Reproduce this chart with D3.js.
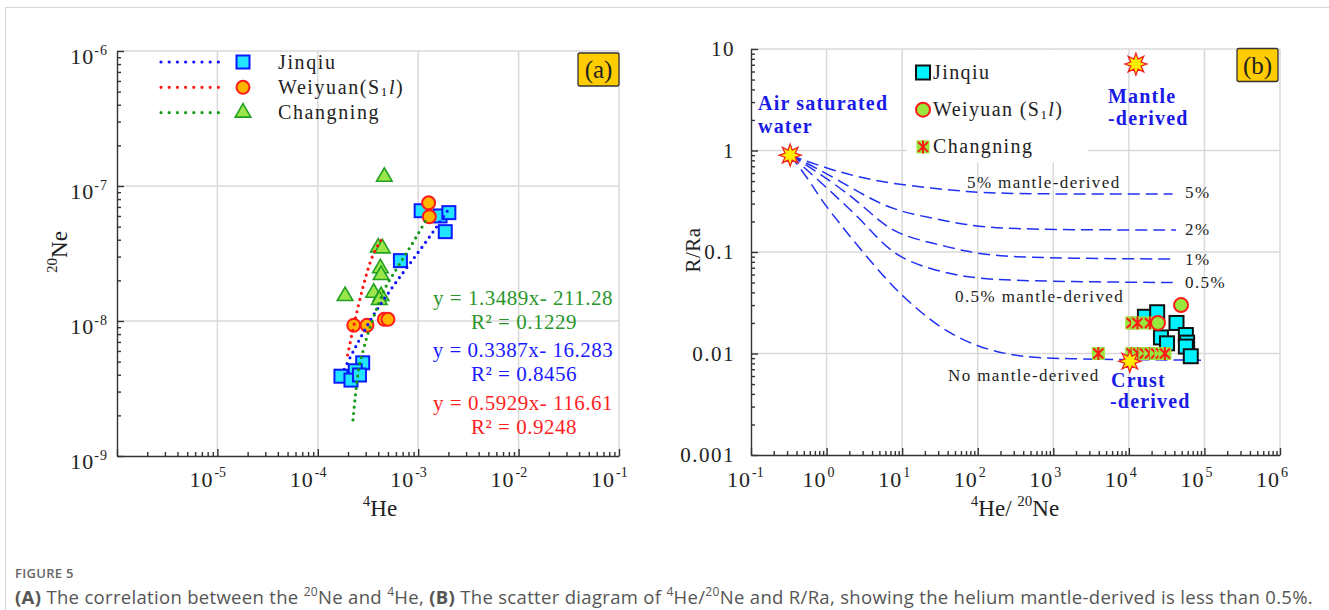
<!DOCTYPE html>
<html>
<head>
<meta charset="utf-8">
<title>Figure 5</title>
<style>
  body { margin: 0; background: #fff; }
  svg { display: block; }
  text { font-family: "Liberation Serif", "Times New Roman", serif; }
  .cap { font-family: "Open Sans", sans-serif; }
</style>
</head>
<body>
<div id="chart"></div>
<script src="https://cdn.jsdelivr.net/npm/d3@7"></script>
<script>
// ---------- panel (a): 4He vs 20Ne ----------
const jinqiuA = [[1.07e-3,6.56e-8],[1.65e-3,6.0e-8],[2.02e-3,6.35e-8],[1.86e-3,4.59e-8],[6.65e-4,2.8e-8],
                 [2.8e-4,4.9e-9],[2.36e-4,4.28e-9],[1.7e-4,3.9e-9],[2.14e-4,3.65e-9],[2.6e-4,3.98e-9]];
const weiyuanA = [[1.27e-3,7.5e-8],[1.29e-3,5.93e-8],[2.28e-4,9.3e-9],[3.09e-4,9.3e-9],[4.6e-4,1.03e-8],[5.0e-4,1.03e-8]];
const changningA = [[4.6e-4,1.17e-7],[4.0e-4,3.5e-8],[4.4e-4,3.45e-8],[4.2e-4,2.46e-8],[4.27e-4,2.19e-8],
                    [1.87e-4,1.53e-8],[3.6e-4,1.62e-8],[4.27e-4,1.53e-8],[4.1e-4,1.43e-8]];
// fitted trend lines
const trendJinqiu = [[1.83e-4,4.39e-9],[2.59e-4,7.23e-9],[3.52e-4,1.08e-8],[5.16e-4,1.65e-8],[9.55e-4,3.08e-8],[1.3e-3,4.21e-8],[1.98e-3,6.64e-8]];
const trendWeiyuan = [[1.98e-4,5.6e-9],[2.31e-4,9.6e-9],[2.8e-4,1.75e-8],[3.39e-4,2.83e-8],[4.27e-4,3.98e-8]];
const trendChangning = [[2.24e-4,1.85e-9],[2.49e-4,3.87e-9],[2.9e-4,6.46e-9],[3.52e-4,1.02e-8],[4.6e-4,1.7e-8],[6.27e-4,2.52e-8],[9.18e-4,3.98e-8],[1.25e-3,5.93e-8]];
const eqGreen = ['y = 1.3489x- 211.28', 'R² = 0.1229'];
const eqBlue  = ['y = 0.3387x- 16.283', 'R² = 0.8456'];
const eqRed   = ['y = 0.5929x- 116.61', 'R² = 0.9248'];
const xDecA = [1e-6,1e-5,1e-4,1e-3,1e-2,1e-1];
const yDecA = [1e-9,1e-8,1e-7,1e-6];

// ---------- panel (b): 4He/20Ne vs R/Ra ----------
const jinqiuB = [[1.63e4,0.023],[2.37e4,0.0255],[4.27e4,0.02],[2.66e4,0.0144],[3.2e4,0.0126],
                 [5.68e4,0.0152],[5.9e4,0.0128],[5.68e4,0.0117],[6.6e4,0.0094]];
const weiyuanB = [[2.43e4,0.02],[4.9e4,0.03]];
const changningB = [[1.09e4,0.02],[1.3e4,0.02],[1.9e4,0.02],[3950,0.01],[1.09e4,0.01],[1.33e4,0.01],
                    [1.63e4,0.01],[1.9e4,0.01],[2.3e4,0.01],[2.66e4,0.01],[3e4,0.01]];
const asw = [0.33, 0.9], mantle = [1.24e4, 7.1], crust = [1.03e4, 0.0084];
// mixing curves
const mix5  = [[0.33,0.9],[1,0.668],[2.5,0.552],[6.9,0.475],[25.5,0.4245],[71,0.393],[197,0.378],[1500,0.372],[3.8e4,0.372]];
const mix2  = [[0.33,0.9],[1,0.6],[3.95,0.325],[9.35,0.25],[25.5,0.215],[71,0.184],[197,0.171],[1500,0.165],[4.2e4,0.165]];
const mix1  = [[0.33,0.9],[0.8,0.6],[2.5,0.325],[5,0.2],[9.35,0.147],[25.5,0.122],[71,0.1007],[197,0.09],[1500,0.0867],[4.2e4,0.085]];
const mix05 = [[0.33,0.9],[0.7,0.55],[1.5,0.325],[3,0.2],[5,0.13],[9.35,0.087],[25.5,0.0665],[71,0.0564],[197,0.053],[1500,0.051],[3.8e4,0.05]];
const mix0  = [[0.33,0.9],[0.6,0.5],[0.85,0.325],[1.5,0.19],[3,0.1],[6,0.055],[10,0.037],[30,0.018],[100,0.0115],[300,0.0095],[1000,0.0088],[9e4,0.0086]];
const xDecB = [0.1,1,10,100,1e3,1e4,1e5,1e6];
const yDecB = [0.001,0.01,0.1,1,10];
const yLabB = ['0.001','0.01','0.1','1','10'];

const svg = d3.select('#chart').append('svg').attr('width',1329).attr('height',610);

// page frame
svg.append('line').attr('x1',5).attr('x2',1329).attr('y1',7.5).attr('y2',7.5).attr('stroke','#d6d6d6');
svg.append('line').attr('x1',5.5).attr('x2',5.5).attr('y1',7).attr('y2',610).attr('stroke','#d6d6d6');

const xA = d3.scaleLog().domain([1e-6,1e-1]).range([117,619]);
const yA = d3.scaleLog().domain([1e-9,1e-6]).range([456,51]);
const xB = d3.scaleLog().domain([0.1,1e6]).range([751,1280]);
const yB = d3.scaleLog().domain([0.001,10]).range([455,49]);

function minors(dec) {
  const out = [];
  dec.slice(0,-1).forEach(d => { for (let k=2;k<10;k++) out.push(d*k); });
  return out;
}

function frame(x, y, xDec, yDec) {
  const g = svg.append('g');
  const [x0,x1] = x.range(), [y0,y1] = y.range();
  g.selectAll('.gx').data(xDec.slice(1)).enter().append('line')
    .attr('x1',d=>x(d)).attr('x2',d=>x(d)).attr('y1',y0).attr('y2',y1)
    .attr('stroke','#d9d9d9').attr('stroke-width',1.5);
  g.selectAll('.gy').data(yDec.slice(1)).enter().append('line')
    .attr('y1',d=>y(d)).attr('y2',d=>y(d)).attr('x1',x0).attr('x2',x1)
    .attr('stroke','#d9d9d9').attr('stroke-width',1.5);
  const style = s => { s.selectAll('line,path').attr('stroke','#333').attr('stroke-width',1.4); s.selectAll('text').remove(); };
  g.append('g').attr('transform',`translate(0,${y0})`)
    .call(d3.axisBottom(x).tickValues(minors(xDec)).tickSize(-4).tickFormat(''))
    .call(s=>s.select('.domain').remove()).call(style);
  g.append('g').attr('transform',`translate(${x0},0)`)
    .call(d3.axisLeft(y).tickValues(minors(yDec)).tickSize(-4).tickFormat(''))
    .call(s=>s.select('.domain').remove()).call(style);
  g.append('g').attr('transform',`translate(0,${y0})`)
    .call(d3.axisBottom(x).tickValues(xDec).tickSize(-7).tickSizeOuter(0).tickFormat('')).call(style);
  g.append('g').attr('transform',`translate(${x0},0)`)
    .call(d3.axisLeft(y).tickValues(yDec).tickSize(-7).tickSizeOuter(0).tickFormat('')).call(style);
}

// text with parts: {t, sup, sub, b, i}
function rich(sel, parts, base) {
  let shift = 0;
  parts.forEach(p => {
    if (typeof p === 'string') p = {t:p};
    const target = p.sup ? -base*0.42 : p.sub ? base*0.12 : 0;
    const ts = sel.append('tspan').attr('dy', target - shift).text(p.t);
    shift = target;
    if (p.sup || p.sub) ts.attr('font-size', Math.round(base*0.64));
    if (p.b) ts.attr('font-weight','bold');
    if (p.i) ts.attr('font-style','italic');
  });
  return sel;
}

function labelBox(x, y, t) {
  svg.append('rect').attr('x',x).attr('y',y).attr('width',41).attr('height',33).attr('rx',2)
    .attr('fill','#ffcc00').attr('stroke','#333').attr('stroke-width',1.3);
  svg.append('text').attr('x',x+20.5).attr('y',y+25).attr('text-anchor','middle')
    .attr('font-size',25).attr('fill','#222').text(t);
}

function starPath(r1, r2) {
  const pts = d3.range(16).map(i => [i*Math.PI/8, i%2 ? r2 : r1]);
  return d3.lineRadial().angle(d=>d[0]).radius(d=>d[1]).curve(d3.curveLinearClosed)(pts);
}
function star(x, y) {
  svg.append('path').attr('d', starPath(11, 5.5)).attr('transform',`translate(${x},${y})`)
    .attr('fill','#ffee00').attr('stroke','#ee2222').attr('stroke-width',1.3);
}

// ================= panel (a) =================
frame(xA, yA, xDecA, yDecA);

xDecA.slice(1).forEach(d => {
  const e = Math.round(Math.log10(d));
  svg.append('text').attr('x',xA(d)-4).attr('y',487).attr('text-anchor','end')
    .attr('font-size',22).attr('letter-spacing',1).attr('fill','#222').text('10');
  svg.append('text').attr('x',xA(d)-3).attr('y',477).attr('font-size',14).attr('fill','#222').text(e);
});
yDecA.forEach(d => {
  const e = Math.round(Math.log10(d));
  rich(svg.append('text').attr('x',108).attr('y',yA(d)+13).attr('text-anchor','end')
    .attr('font-size',22).attr('letter-spacing',1).attr('fill','#222'), ['10',{t:String(e),sup:true}], 22);
});
rich(svg.append('text').attr('x',380).attr('y',516).attr('text-anchor','middle').attr('font-size',23).attr('fill','#222'),
  [{t:'4',sup:true},'He'], 23);
rich(svg.append('text').attr('transform','translate(67,252) rotate(-90)').attr('text-anchor','middle')
  .attr('font-size',23).attr('fill','#222'), [{t:'20',sup:true},'Ne'], 23);

const lineA = d3.line().x(d=>xA(d[0])).y(d=>yA(d[1])).curve(d3.curveMonotoneX);

const sq = (g, s, fill, stroke) => g.append('rect').attr('x',-s/2).attr('y',-s/2).attr('width',s).attr('height',s)
  .attr('fill',fill).attr('stroke',stroke).attr('stroke-width',2);
const circ = (g, r, fill, stroke) => g.append('circle').attr('r',r).attr('fill',fill).attr('stroke',stroke).attr('stroke-width',2);
const tri = (g, fill, stroke) => g.append('path').attr('d',d3.symbol(d3.symbolTriangle, 105)())
  .attr('fill',fill).attr('stroke',stroke).attr('stroke-width',1.6);

const cyanA = '#22e4ff', orange = '#ffb400', lime = '#9be64a';

svg.append('g').selectAll('g').data(jinqiuA).enter().append('g')
  .attr('transform',d=>`translate(${xA(d[0])},${yA(d[1])})`).each(function(){ sq(d3.select(this),13,cyanA,'#0a1aff'); });
svg.append('g').selectAll('g').data(changningA).enter().append('g')
  .attr('transform',d=>`translate(${xA(d[0])},${yA(d[1])})`).each(function(){ tri(d3.select(this),lime,'#22a022'); });
svg.append('g').selectAll('g').data(weiyuanA).enter().append('g')
  .attr('transform',d=>`translate(${xA(d[0])},${yA(d[1])})`).each(function(){ circ(d3.select(this),6.5,orange,'#ff1a1a'); });

const trends = [[trendJinqiu,'#1010ff'],[trendWeiyuan,'#ff1515'],[trendChangning,'#159a15']];
trends.forEach(([pts,c]) => {
  svg.append('path').attr('d',lineA(pts)).attr('fill','none').attr('stroke',c)
    .attr('stroke-width',3.2).attr('stroke-linecap','round').attr('stroke-dasharray','0 6.3');
});

// legend (a)
const legA = [
  {c:'#1010ff', m:g=>sq(g,13,cyanA,'#0a1aff'), t:['Jinqiu']},
  {c:'#ff1515', m:g=>circ(g,6.5,orange,'#ff1a1a'), t:['Weiyuan(S',{t:'1',sub:true},{t:'l',i:true},')']},
  {c:'#159a15', m:g=>tri(g,lime,'#22a022'), t:['Changning']}
];
legA.forEach((d,i) => {
  const y = 62 + i*25.3;
  svg.append('line').attr('x1',161).attr('x2',219).attr('y1',y).attr('y2',y).attr('stroke',d.c)
    .attr('stroke-width',3.2).attr('stroke-linecap','round').attr('stroke-dasharray','0 8.2');
  d.m(svg.append('g').attr('transform',`translate(243,${y})`));
  rich(svg.append('text').attr('x',278).attr('y',y+6.5).attr('font-size',20).attr('letter-spacing',1.6).attr('fill','#222'), d.t, 20);
});
labelBox(578, 53, '(a)');

[[eqGreen,'#2a962a',305],[eqBlue,'#1a1aff',357],[eqRed,'#ff1f1f',410]].forEach(([eq,c,y]) => {
  svg.append('text').attr('x',523).attr('y',y).attr('text-anchor','middle').attr('font-size',21)
    .attr('letter-spacing',0.5).attr('fill',c).text(eq[0]);
  svg.append('text').attr('x',524).attr('y',y+24).attr('text-anchor','middle').attr('font-size',21)
    .attr('letter-spacing',0.5).attr('fill',c).text(eq[1]);
});

// ================= panel (b) =================
frame(xB, yB, xDecB, yDecB);

xDecB.forEach(d => {
  const e = Math.round(Math.log10(d));
  svg.append('text').attr('x',xB(d)).attr('y',487).attr('text-anchor','end')
    .attr('font-size',22).attr('letter-spacing',1).attr('fill','#222').text('10');
  svg.append('text').attr('x',xB(d)+1).attr('y',477).attr('font-size',14).attr('fill','#222').text(e);
});
yDecB.forEach((d,i) => {
  svg.append('text').attr('x',735).attr('y',yB(d)+7).attr('text-anchor','end')
    .attr('font-size',21).attr('letter-spacing',1.5).attr('fill','#222').text(yLabB[i]);
});
svg.append('text').attr('transform','translate(700,250) rotate(-90)').attr('text-anchor','middle')
  .attr('font-size',21).attr('letter-spacing',0.5).attr('fill','#222').text('R/Ra');
rich(svg.append('text').attr('x',1015).attr('y',516).attr('text-anchor','middle').attr('font-size',23).attr('fill','#222'),
  [{t:'4',sup:true},'He/ ',{t:'20',sup:true},'Ne'], 23);

// legend background (b)
svg.append('rect').attr('x',907).attr('y',50).attr('width',181).attr('height',113).attr('fill','#fff');

const lineB = d3.line().x(d=>xB(d[0])).y(d=>yB(d[1])).curve(d3.curveBasis);
[mix5, mix2, mix1, mix05, mix0].forEach(pts => {
  svg.append('path').attr('d',lineB(pts)).attr('fill','none').attr('stroke','#2030f0')
    .attr('stroke-width',1.5).attr('stroke-dasharray','12 6');
});

const cnMark = g => {
  g.append('rect').attr('x',-6.5).attr('y',-6.5).attr('width',13).attr('height',13).attr('fill','#99e63c');
  g.append('path').attr('d','M-5,-5L5,5M-5,5L5,-5M0,-6.5L0,6.5').attr('stroke','#ff1a1a').attr('stroke-width',2);
};
const jqMark = g => sq(g,14,'#00f2ff','#111');
const wyMark = g => circ(g,7,'#99e63c','#ff1a1a');

svg.append('g').selectAll('g').data(jinqiuB).enter().append('g')
  .attr('transform',d=>`translate(${xB(d[0])},${yB(d[1])})`).each(function(){ jqMark(d3.select(this)); });
svg.append('g').selectAll('g').data(changningB).enter().append('g')
  .attr('transform',d=>`translate(${xB(d[0])},${yB(d[1])})`).each(function(){ cnMark(d3.select(this)); });
svg.append('g').selectAll('g').data(weiyuanB).enter().append('g')
  .attr('transform',d=>`translate(${xB(d[0])},${yB(d[1])})`).each(function(){ wyMark(d3.select(this)); });

star(xB(asw[0]), yB(asw[1]));
star(xB(mantle[0]), yB(mantle[1]));
star(xB(crust[0]), yB(crust[1]));

// legend (b)
const legB = [
  {m:jqMark, t:['Jinqiu']},
  {m:wyMark, t:['Weiyuan (S',{t:'1',sub:true},{t:'l',i:true},')']},
  {m:cnMark, t:['Changning']}
];
legB.forEach((d,i) => {
  const y = 72.5 + i*37.2;
  d.m(svg.append('g').attr('transform',`translate(923,${y})`));
  rich(svg.append('text').attr('x',933).attr('y',y+6.5).attr('font-size',20).attr('letter-spacing',1.4).attr('fill','#222'), d.t, 20);
});
labelBox(1237, 48.5, '(b)');

// annotations
const blueBold = (x,y,t,anchor) => svg.append('text').attr('x',x).attr('y',y).attr('text-anchor',anchor||'start')
  .attr('font-size',20).attr('font-weight','bold').attr('letter-spacing',1.2).attr('fill','#1a1ae6').text(t);
blueBold(758,110,'Air saturated');
blueBold(758,133,'water');
blueBold(1108,103,'Mantle');
blueBold(1108,125,'-derived');
blueBold(1111,387,'Crust');
blueBold(1110,408,'-derived');

const note = (x,y,t,anchor) => svg.append('text').attr('x',x).attr('y',y).attr('text-anchor',anchor||'start')
  .attr('font-size',17).attr('letter-spacing',1.4).attr('fill','#222').text(t);
note(967,188,'5% mantle-derived');
note(955,302,'0.5% mantle-derived');
note(948,381,'No mantle-derived');
note(1185,198,'5%');
note(1185,235,'2%');
note(1185,265,'1%');
note(1185,288,'0.5%');

// ================= caption =================
svg.append('text').attr('class','cap').attr('x',15).attr('y',578).attr('font-size',13)
  .attr('font-weight',600).attr('letter-spacing',0.3).attr('fill','#666').text('FIGURE 5');
const cap = rich(svg.append('text').attr('class','cap').attr('x',15).attr('y',604).attr('font-size',18.5).attr('fill','#555'),
  [{t:'(A)',b:true},' The correlation between the ',{t:'20',sup:true},'Ne and ',{t:'4',sup:true},'He, ',
   {t:'(B)',b:true},' The scatter diagram of ',{t:'4',sup:true},'He/',{t:'20',sup:true},
   'Ne and R/Ra, showing the helium mantle-derived is less than 0.5%.'], 18.5);
// stretch the caption to the width it has in the figure
const capLen = cap.node().getComputedTextLength();
cap.attr('letter-spacing', (1298 - capLen) / cap.text().length);
</script>
</body>
</html>
